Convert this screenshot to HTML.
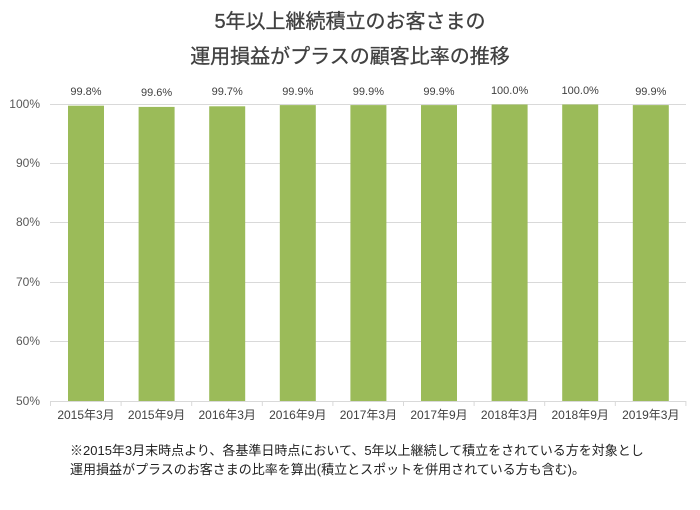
<!DOCTYPE html>
<html><head><meta charset="utf-8"><style>
body{margin:0;background:#fff;width:700px;height:505px;overflow:hidden;font-family:"Liberation Sans","Noto Sans CJK JP",sans-serif;}
</style></head><body>
<svg width="700" height="505" xmlns="http://www.w3.org/2000/svg" font-family="Liberation Sans, Noto Sans CJK JP, sans-serif">
<text x="350" y="28" font-size="20" text-anchor="middle" fill="#404040" stroke="#404040" stroke-width="0.3">5年以上継続積立のお客さまの</text>
<text x="350" y="63" font-size="20" text-anchor="middle" fill="#404040" stroke="#404040" stroke-width="0.3">運用損益がプラスの顧客比率の推移</text>
<g stroke="#d9d9d9" stroke-width="1">
<line x1="50" x2="686" y1="104.5" y2="104.5"/>
<line x1="50" x2="686" y1="163.5" y2="163.5"/>
<line x1="50" x2="686" y1="222.5" y2="222.5"/>
<line x1="50" x2="686" y1="282.5" y2="282.5"/>
<line x1="50" x2="686" y1="341.5" y2="341.5"/>
<line x1="50" x2="686" y1="401.5" y2="401.5"/>
<line x1="50.5" x2="50.5" y1="401" y2="406"/>
<line x1="121.1" x2="121.1" y1="401" y2="406"/>
<line x1="191.7" x2="191.7" y1="401" y2="406"/>
<line x1="262.3" x2="262.3" y1="401" y2="406"/>
<line x1="332.9" x2="332.9" y1="401" y2="406"/>
<line x1="403.5" x2="403.5" y1="401" y2="406"/>
<line x1="474.1" x2="474.1" y1="401" y2="406"/>
<line x1="544.7" x2="544.7" y1="401" y2="406"/>
<line x1="615.3" x2="615.3" y1="401" y2="406"/>
<line x1="685.9" x2="685.9" y1="401" y2="406"/>
</g>
<g font-size="12" fill="#595959" text-anchor="end">
<text x="40" y="108">100%</text><text x="40" y="167">90%</text><text x="40" y="226">80%</text>
<text x="40" y="286">70%</text><text x="40" y="345">60%</text><text x="40" y="405">50%</text>
</g>
<g fill="#9bbb59">
<rect x="68" y="105.7" width="36" height="295.3"/>
<rect x="138.6" y="106.9" width="36" height="294.1"/>
<rect x="209.2" y="106.3" width="36" height="294.7"/>
<rect x="279.8" y="105.1" width="36" height="295.9"/>
<rect x="350.4" y="105.1" width="36" height="295.9"/>
<rect x="421" y="105.1" width="36" height="295.9"/>
<rect x="491.6" y="104.5" width="36" height="296.5"/>
<rect x="562.2" y="104.5" width="36" height="296.5"/>
<rect x="632.8" y="105.1" width="36" height="295.9"/>
</g>
<g font-size="11" fill="#404040" text-anchor="middle">
<text x="86" y="95">99.8%</text><text x="156.6" y="96">99.6%</text><text x="227.2" y="95">99.7%</text>
<text x="297.8" y="95">99.9%</text><text x="368.4" y="95">99.9%</text><text x="439" y="95">99.9%</text>
<text x="509.6" y="94">100.0%</text><text x="580.2" y="94">100.0%</text><text x="650.8" y="95">99.9%</text>
</g>
<g font-size="12" fill="#404040" text-anchor="middle">
<text x="86" y="419">2015年3月</text><text x="156.6" y="419">2015年9月</text><text x="227.2" y="419">2016年3月</text>
<text x="297.8" y="419">2016年9月</text><text x="368.4" y="419">2017年3月</text><text x="439" y="419">2017年9月</text>
<text x="509.6" y="419">2018年3月</text><text x="580.2" y="419">2018年9月</text><text x="650.8" y="419">2019年3月</text>
</g>
<g font-size="13" fill="#222">
<text x="70" y="455">※2015年3月末時点より、各基準日時点において、5年以上継続して積立をされている方を対象とし</text>
<text x="70" y="474">運用損益がプラスのお客さまの比率を算出(積立とスポットを併用されている方も含む)。</text>
</g>
</svg>
</body></html>
